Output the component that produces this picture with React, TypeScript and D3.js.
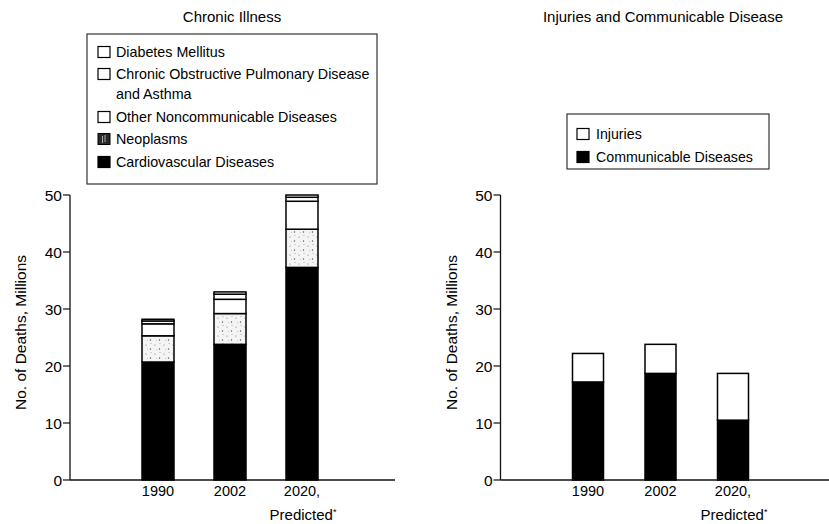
import React from 'react'
import * as d3 from 'd3'

// values, millions of deaths
const years = ['1990', '2002', '2020']
const cardiovascular = [20.7, 23.8, 37.3]
const neoplasms = [4.6, 5.4, 6.7]
const otherNoncommunicable = [2.1, 2.5, 4.9]
const copdAsthma = [0.5, 0.9, 0.7]
const diabetes = [0.3, 0.4, 0.4]

const communicable = [17.2, 18.7, 10.5]
const injuries = [5.0, 5.1, 8.2]

const yTicks = [0, 10, 20, 30, 40, 50]

const W = 829
const H = 524
const FONT = '"Liberation Sans", Arial, Helvetica, sans-serif'

const chronicKeys = ['cardio', 'neo', 'other', 'copd', 'diab']
const chronicFill: Record<string, string> = {
  cardio: '#000',
  neo: 'url(#stipple)',
  other: '#fff',
  copd: '#fff',
  diab: '#fff',
}
const injuryKeys = ['comm', 'inj']
const injuryFill: Record<string, string> = { comm: '#000', inj: '#fff' }

const y = d3.scaleLinear().domain([0, 50]).range([480, 195])

function Axis({ x0, x1 }: { x0: number; x1: number }) {
  return (
    <g>
      <line x1={x0} x2={x0} y1={y(50)} y2={y(0)} stroke="#111" strokeWidth={1.3} />
      <line x1={x0} x2={x1} y1={y(0)} y2={y(0)} stroke="#111" strokeWidth={1.3} />
      {yTicks.map(t => (
        <g key={t}>
          <line x1={x0 - 7} x2={x0} y1={y(t)} y2={y(t)} stroke="#111" strokeWidth={1.2} />
          <text x={x0 - 8} y={y(t)} dy="0.36em" textAnchor="end" fontSize={15.5}>{t}</text>
        </g>
      ))}
      <text
        transform={`translate(${x0 - 44},${y(25) - 5}) rotate(-90)`}
        textAnchor="middle"
        fontSize={15.5}
      >
        No. of Deaths, Millions
      </text>
    </g>
  )
}

function YearLabels({ x }: { x: d3.ScalePoint<string> }) {
  return (
    <g fontSize={14.5} textAnchor="middle">
      {years.map(yr => (
        <text key={yr} x={x(yr)} y={496}>{yr === '2020' ? '2020,' : yr}</text>
      ))}
      <text x={(x('2020') as number) + 1} y={520} fontSize={15}>
        Predicted<tspan fontSize={9} dy={-5}>*</tspan>
      </text>
    </g>
  )
}

function Stack({ x, keys, rows, fills, barW }: {
  x: d3.ScalePoint<string>
  keys: string[]
  rows: Record<string, any>[]
  fills: Record<string, string>
  barW: number
}) {
  const series = d3.stack<any>().keys(keys)(rows)
  return (
    <g>
      {series.map(s => s.map((d, i) => (
        <rect
          key={s.key + i}
          x={(x(rows[i].year) as number) - barW / 2}
          y={y(d[1])}
          width={barW}
          height={y(d[0]) - y(d[1])}
          fill={fills[s.key]}
          stroke="#000"
          strokeWidth={1.5}
        />
      )))}
    </g>
  )
}

export default function App() {
  const chronicRows = years.map((yr, i) => ({
    year: yr,
    cardio: cardiovascular[i],
    neo: neoplasms[i],
    other: otherNoncommunicable[i],
    copd: copdAsthma[i],
    diab: diabetes[i],
  }))
  const injuryRows = years.map((yr, i) => ({
    year: yr,
    comm: communicable[i],
    inj: injuries[i],
  }))

  const xLeft = d3.scalePoint<string>().domain(years).range([158, 302])
  const xRight = d3.scalePoint<string>().domain(years).range([588, 733])

  const leftLegend = [
    { fill: '#fff', lines: ['Diabetes Mellitus'], cy: 52 },
    { fill: '#fff', lines: ['Chronic Obstructive Pulmonary Disease', 'and Asthma'], cy: 74 },
    { fill: '#fff', lines: ['Other Noncommunicable Diseases'], cy: 117 },
    { fill: 'neo', lines: ['Neoplasms'], cy: 139 },
    { fill: '#000', lines: ['Cardiovascular Diseases'], cy: 162 },
  ]
  const rightLegend = [
    { fill: '#fff', label: 'Injuries', cy: 134 },
    { fill: '#000', label: 'Communicable Diseases', cy: 157 },
  ]

  return (
    <svg width={W} height={H} style={{ position: 'absolute', left: 0, top: 0, background: '#fff' }}
      fontFamily={FONT} fill="#000">
      <defs>
        <pattern id="stipple" width="9" height="9" patternUnits="userSpaceOnUse">
          <rect width="9" height="9" fill="#f4f4f4" />
          <circle cx="2" cy="3" r="0.6" fill="#777" />
          <circle cx="6.5" cy="7" r="0.7" fill="#555" />
          <circle cx="7" cy="1.5" r="0.5" fill="#999" />
          <circle cx="3.5" cy="7.5" r="0.4" fill="#888" />
        </pattern>
      </defs>

      {/* left panel */}
      <text x={232} y={22} textAnchor="middle" fontSize={15}>Chronic Illness</text>
      <rect x={87} y={34} width={290} height={150} fill="#fff" stroke="#222" strokeWidth={1.1} />
      {leftLegend.map((d, i) => (
        <g key={i}>
          {d.fill === 'neo' ? (
            <g>
              <rect x={98} y={d.cy - 5.5} width={12} height={11} fill="#2a2a2a" stroke="#000" />
              <line x1={102.5} x2={102.5} y1={d.cy - 3} y2={d.cy + 4} stroke="#ccc" strokeWidth={0.8} />
              <line x1={105} x2={105} y1={d.cy - 4} y2={d.cy + 3} stroke="#ccc" strokeWidth={0.8} />
            </g>
          ) : (
            <rect x={98} y={d.cy - 5.5} width={12} height={11} fill={d.fill} stroke="#000" strokeWidth={1.2} />
          )}
          {d.lines.map((l, j) => (
            <text key={j} x={116} y={d.cy + j * 20} dy="0.36em" fontSize={14.3}>{l}</text>
          ))}
        </g>
      ))}
      <Axis x0={70} x1={395} />
      <Stack x={xLeft} keys={chronicKeys} rows={chronicRows} fills={chronicFill} barW={32} />
      <YearLabels x={xLeft} />

      {/* right panel */}
      <text x={663} y={22} textAnchor="middle" fontSize={15}>Injuries and Communicable Disease</text>
      <rect x={567} y={114} width={202} height={55} fill="#fff" stroke="#222" strokeWidth={1.1} />
      {rightLegend.map((d, i) => (
        <g key={i}>
          <rect x={577} y={d.cy - 5.5} width={12} height={11} fill={d.fill} stroke="#000" strokeWidth={1.2} />
          <text x={596} y={d.cy} dy="0.36em" fontSize={14.2}>{d.label}</text>
        </g>
      ))}
      <Axis x0={500.5} x1={829} />
      <Stack x={xRight} keys={injuryKeys} rows={injuryRows} fills={injuryFill} barW={31} />
      <YearLabels x={xRight} />
    </svg>
  )
}
